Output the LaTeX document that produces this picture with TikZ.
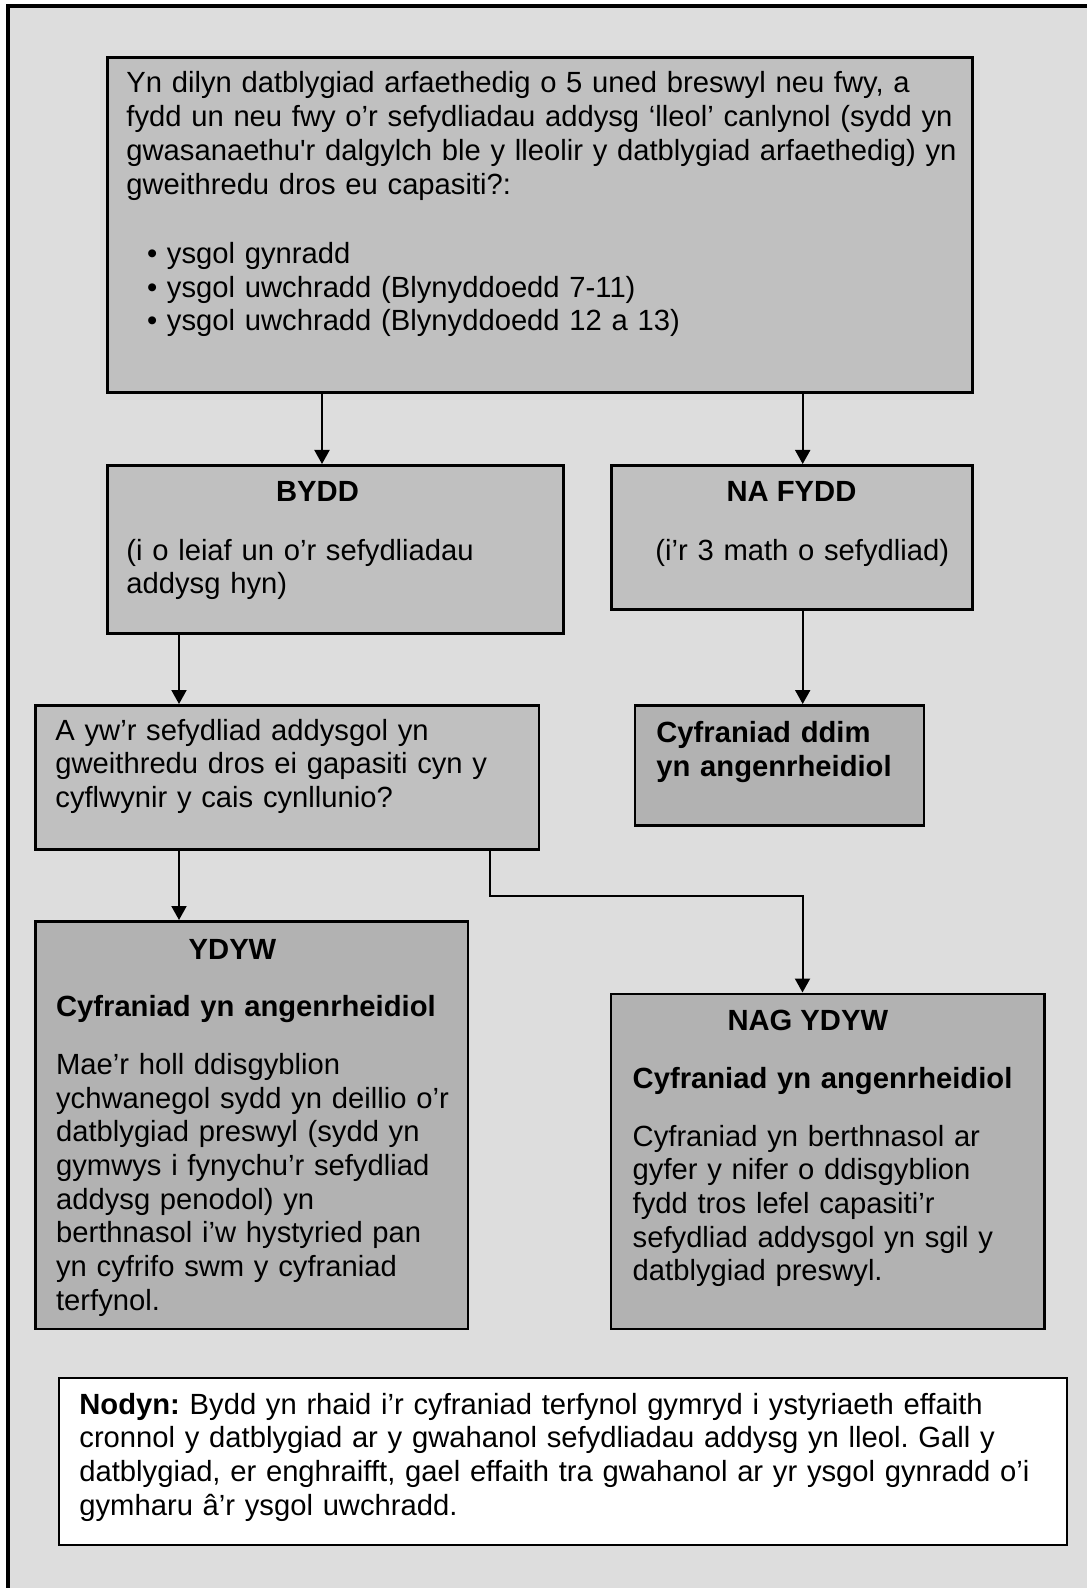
\documentclass[tikz,border=0pt]{standalone}
\usepackage{fontspec}
\setmainfont{Liberation Sans}
\usetikzlibrary{arrows.meta}
\definecolor{backgray}{HTML}{DDDDDD}
\definecolor{boxgray}{HTML}{C0C0C0}
\definecolor{boxdark}{HTML}{B2B2B2}
\frenchspacing

\begin{document}
\begin{tikzpicture}[x=0.5pt, y=-0.5pt,
            box node/.style={rectangle, draw, line width=1.3pt, fill=boxgray, anchor=north west, inner sep=0pt},
            dark node/.style={box node, fill=boxdark},
            note node/.style={rectangle, draw, line width=1pt, fill=white, anchor=north west, inner sep=0pt},
            text node/.style={anchor=base west, inner sep=0pt, text width=#1, align=left, font=\fontsize{14.6pt}{16.85pt}\selectfont},
            head node/.style={anchor=base, inner sep=0pt, font=\fontsize{14.6pt}{16.85pt}\selectfont\bfseries},
            arrow/.style={line width=1pt, -{Triangle[width=7.5pt,length=7pt]}},
            ]
            \useasboundingbox (0,0) rectangle (1087,1588);
            \fill[white] (0,0) rectangle (1087,1588);
            \fill[backgray] (8,6) rectangle (1087,1588);
            \draw[line width=2pt] (8,1588) -- (8,6) -- (1087,6);

            \node[box node, minimum width=432.5pt, minimum height=167.5pt] (top) at (106,56) {};
            \node[box node, minimum width=228pt, minimum height=84pt] (bydd) at (106,464) {};
            \node[box node, minimum width=180.5pt, minimum height=72pt] (nafydd) at (610,464) {};
            \node[box node, minimum width=251.75pt, minimum height=72pt] (quest) at (34,704) {};
            \node[dark node, minimum width=144.5pt, minimum height=60pt] (ddim) at (633.5,704) {};
            \node[dark node, minimum width=216.25pt, minimum height=203.75pt] (ydyw) at (34,920) {};
            \node[dark node, minimum width=216.75pt, minimum height=167.5pt] (nag) at (609.5,992.5) {};
            \node[note node, minimum width=503.75pt, minimum height=83.5pt] (note) at (58,1377) {};

            \node[text node=420pt] (top text) at (126,93) {Yn dilyn datblygiad arfaethedig o 5 uned breswyl neu fwy, a\\
                fydd un neu fwy o’r sefydliadau addysg ‘lleol’ canlynol (sydd yn\\
                gwasanaethu\textquotesingle r dalgylch ble y lleolir y datblygiad arfaethedig) yn\\
                gweithredu dros eu capasiti?:\\[17.8pt]
                \hspace*{10.3pt}\makebox[10pt][l]{\textbullet}ysgol gynradd\\
                \hspace*{10.3pt}\makebox[10pt][l]{\textbullet}ysgol uwchradd (Blynyddoedd 7-11)\\
                \hspace*{10.3pt}\makebox[10pt][l]{\textbullet}ysgol uwchradd (Blynyddoedd 12 a 13)};

            \node[head node] (bydd head) at (317.5,501) {BYDD};
            \node[text node=210pt] (bydd text) at (126,560) {(i o leiaf un o’r sefydliadau\\addysg hyn)};
            \node[head node] (nafydd head) at (791.5,501) {NA FYDD};
            \node[text node=160pt] (nafydd text) at (655,560) {(i’r 3 math o sefydliad)};

            \node[text node=240pt] (quest text) at (55,740) {A yw’r sefydliad addysgol yn\\
                gweithredu dros ei gapasiti cyn y\\
                cyflwynir y cais cynllunio?};
            \node[text node=135pt, font=\fontsize{14.6pt}{16.85pt}\selectfont\bfseries] (ddim text) at (656,742.3) {Cyfraniad ddim\\yn angenrheidiol};

            \node[head node] (ydyw head) at (232.5,959) {YDYW};
            \node[text node=205pt, font=\fontsize{14.6pt}{16.85pt}\selectfont\bfseries] (ydyw sub) at (55.7,1016.7) {Cyfraniad yn angenrheidiol};
            \node[text node=205pt] (ydyw text) at (55.7,1074.3) {Mae’r holl ddisgyblion\\
                ychwanegol sydd yn deillio o’r\\
                datblygiad preswyl (sydd yn\\
                gymwys i fynychu’r sefydliad\\
                addysg penodol) yn\\
                berthnasol i’w hystyried pan\\
                yn cyfrifo swm y cyfraniad\\
                terfynol.};

            \node[head node] (nag head) at (807.8,1030.7) {NAG YDYW};
            \node[text node=205pt, font=\fontsize{14.6pt}{16.85pt}\selectfont\bfseries] (nag sub) at (632.3,1088.3) {Cyfraniad yn angenrheidiol};
            \node[text node=205pt] (nag text) at (632.3,1146) {Cyfraniad yn berthnasol ar\\
                gyfer y nifer o ddisgyblion\\
                fydd tros lefel capasiti’r\\
                sefydliad addysgol yn sgil y\\
                datblygiad preswyl.};

            \node[text node=490pt] (note text) at (79,1414) {{\bfseries Nodyn:} Bydd yn rhaid i’r cyfraniad terfynol gymryd i ystyriaeth effaith\\
                cronnol y datblygiad ar y gwahanol sefydliadau addysg yn lleol. Gall y\\
                datblygiad, er enghraifft, gael effaith tra gwahanol ar yr ysgol gynradd o’i\\
                gymharu â’r ysgol uwchradd.};

            \draw[arrow] (322,0 |- top.south) -- (322,0 |- bydd.north);
            \draw[arrow] (802.7,0 |- top.south) -- (802.7,0 |- nafydd.north);
            \draw[arrow] (179,0 |- bydd.south) -- (179,0 |- quest.north);
            \draw[arrow] (802.7,0 |- nafydd.south) -- (802.7,0 |- ddim.north);
            \draw[arrow] (179,0 |- quest.south) -- (179,0 |- ydyw.north);
            \draw[arrow] (490,0 |- quest.south) -- (490,896) -- (802.5,896) -- (802.5,0 |- nag.north);
        \end{tikzpicture}
\end{document}
